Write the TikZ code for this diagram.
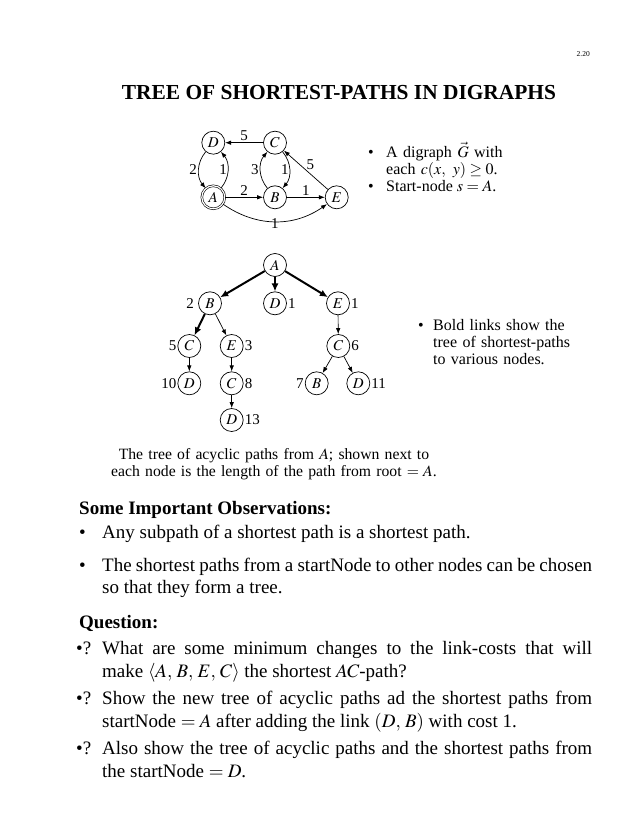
\documentclass[tikz,border=0pt]{standalone}
\usepackage{mathptmx}
\usepackage{fontspec}
\setmainfont{Liberation Serif}
\usetikzlibrary{arrows.meta}
\hyphenpenalty=10000
\exhyphenpenalty=10000
\tikzset{
  vtx/.style={circle, draw, line width=0.7pt, minimum size=23pt, inner sep=0pt, font=\fontsize{15}{15}\selectfont},
  lbl/.style={font=\fontsize{15}{15}\selectfont, inner sep=1.5pt},
  tl/.style={font=\fontsize{15}{15}\selectfont, inner sep=1pt},
  arr/.style={line width=0.7pt, -{Latex[length=6pt,width=4.5pt]}},
  barr/.style={line width=2pt, -{Latex[length=8pt,width=7pt]}},
  bodyt/.style={font=\fontsize{19}{22.5}\selectfont, inner sep=0pt, anchor=base west},
  bodyb/.style={font=\fontsize{19}{22.5}\selectfont\bfseries, inner sep=0pt, anchor=base west},
  para/.style={bodyt, text width=490pt, align=justify},
  smallt/.style={font=\fontsize{16}{17.3}\selectfont, inner sep=0pt, anchor=base west},
}
\begin{document}
\begin{tikzpicture}[x=1pt,y=-1pt]
\useasboundingbox (0,0) rectangle (638,826);
\fill[white] (0,0) rectangle (638,826);

% page number and title
\node[font=\fontsize{7.5}{8}\selectfont, inner sep=0pt, anchor=base east] (pg) at (590,57) {2.20};
\node[font=\fontsize{21.4}{24}\selectfont\bfseries, inner sep=0pt, anchor=base] (title) at (339,100) {TREE OF SHORTEST-PATHS IN DIGRAPHS};

% digraph
\node[vtx] (gD) at (213.3,142.7) {$D$};
\node[vtx] (gC) at (275,142.7) {$C$};
\node[vtx, double, double distance=1.2pt, line width=0.6pt] (gA) at (213.3,197.3) {$A$};
\node[vtx] (gB) at (275,197.3) {$B$};
\node[vtx] (gE) at (336.7,197.3) {$E$};

\draw[arr] (gC) -- node[lbl, above] (l1) {5} (gD);
\draw[arr] (gD) to[bend right=40] node[lbl, left] (l2) {2} (gA);
\draw[arr] (gA) to[bend right=40] node[lbl, left, inner sep=0.5pt] (l3) {1} (gD);
\draw[arr] (gB) to[bend left=40] node[lbl, left] (l4) {3} (gC);
\draw[arr] (gC) to[bend left=40] node[lbl, left, inner sep=0.5pt] (l5) {1} (gB);
\draw[arr] (gA) -- node[lbl, above] (l6) {2} (gB);
\draw[arr] (gB) -- node[lbl, above] (l7) {1} (gE);
\draw[arr] (gE) -- node[lbl, above right, inner sep=0.5pt] (l8) {5} (gC);
\draw[arr] (gA) to[bend right=35] node[lbl, below=-5pt] (l9) {1} (gE);

% right text 1
\node[smallt] (bu1) at (368,157.3) {•};
\node[smallt, text width=200pt, align=left] (tx1) at (386,157.3) {A digraph $\vec{G}$ with\\ each $c(x,\ y) \geq 0$.};
\node[smallt] (bu2) at (368,191.7) {•};
\node[smallt] (tx2) at (386,191.7) {Start-node $s = A$.};

% tree
\node[vtx] (tA) at (275,265) {$A$};
\node[vtx, label={[tl, label distance=3pt]left:2}] (tB) at (210,303.3) {$B$};
\node[vtx, label={[tl]right:1}] (tD) at (275,303.3) {$D$};
\node[vtx, label={[tl]right:1}] (tE) at (338,303.3) {$E$};
\node[vtx, label={[tl]left:5}] (tC5) at (189.3,346) {$C$};
\node[vtx, label={[tl]right:3}] (tE3) at (231.7,346) {$E$};
\node[vtx, label={[tl]right:6}] (tC6) at (338.3,346) {$C$};
\node[vtx, label={[tl]left:10}] (tD10) at (189.3,383.3) {$D$};
\node[vtx, label={[tl]right:8}] (tC8) at (231.7,383.3) {$C$};
\node[vtx, label={[tl]left:7}] (tB7) at (316.7,383.3) {$B$};
\node[vtx, label={[tl]right:11}] (tD11) at (358.3,383.3) {$D$};
\node[vtx, label={[tl]right:13}] (tD13) at (231.7,420) {$D$};

\draw[barr] (tA) -- (tB);
\draw[barr] (tA) -- (tD);
\draw[barr] (tA) -- (tE);
\draw[barr] (tB) -- (tC5);
\draw[arr] (tB) -- (tE3);
\draw[arr] (tE) -- (tC6);
\draw[arr] (tC5) -- (tD10);
\draw[arr] (tE3) -- (tC8);
\draw[arr] (tC8) -- (tD13);
\draw[arr] (tC6) -- (tB7);
\draw[arr] (tC6) -- (tD11);

% right text 2
\node[smallt] (bu3) at (418,330) {•};
\node[smallt, text width=200pt, align=left] (tx3) at (433,330) {Bold links show the\\ tree of shortest-paths\\ to various nodes.};

% caption
\node[font=\fontsize{15.7}{17}\selectfont, inner sep=0pt, text width=360pt, align=center, anchor=base] (cap) at (274,459) {The tree of acyclic paths from $A$; shown next to\\ each node is the length of the path from root $=A$.};

% body
\node[bodyb] (h1) at (79,514) {Some Important Observations:};
\node[bodyt] (o1b) at (79,538) {•};
\node[para] (o1) at (102,538) {Any subpath of a shortest path is a shortest path.};
\node[bodyt] (o2b) at (79,571) {•};
\node[para] (o2) at (102,571) {The shortest paths from a startNode to other nodes can be chosen\linebreak so that they form a tree.};

\node[bodyb] (h2) at (79,628) {Question:};
\node[bodyt] (q1b) at (76,654.6) {•?};
\node[para] (q1) at (102,654.6) {What are some minimum changes to the link-costs that will\linebreak make $\langle A,\, B,\, E,\, C\rangle$ the shortest $AC$-path?};
\node[bodyt] (q2b) at (76,704.6) {•?};
\node[para] (q2) at (102,704.6) {Show the new tree of acyclic paths ad the shortest paths from\linebreak startNode $=A$ after adding the link $(D,\, B)$ with cost 1.};
\node[bodyt] (q3b) at (76,754.6) {•?};
\node[para] (q3) at (102,754.6) {Also show the tree of acyclic paths and the shortest paths from\linebreak the startNode $=D$.};
\end{tikzpicture}
\end{document}
